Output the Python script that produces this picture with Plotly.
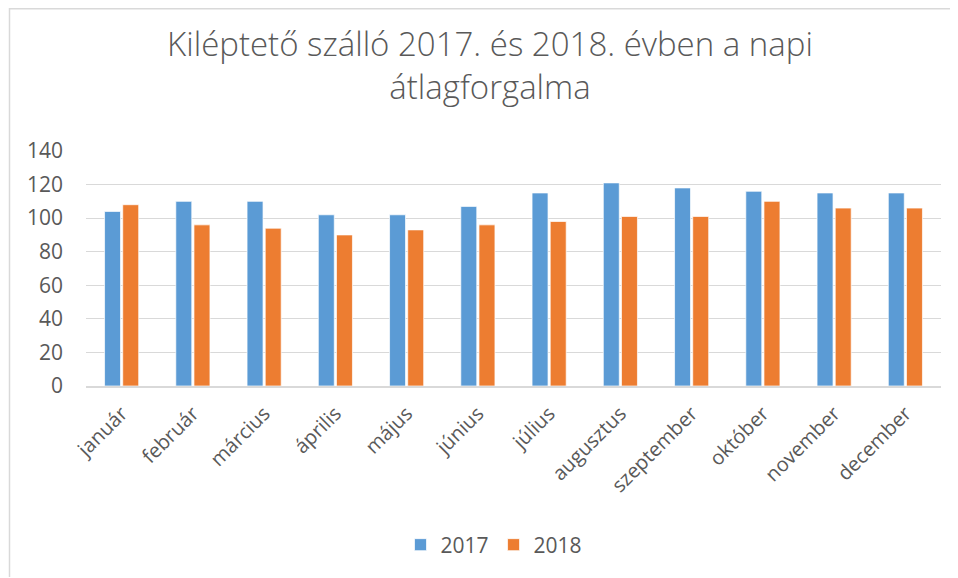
import plotly.graph_objects as go

months = ["január", "február", "március", "április", "május", "június",
          "július", "augusztus", "szeptember", "október", "november", "december"]
v2017 = [104, 110, 110, 102, 102, 107, 115, 121, 118, 116, 115, 115]
v2018 = [108, 96, 94, 90, 93, 96, 98, 101, 101, 110, 106, 106]
y_ticks = [0, 20, 40, 60, 80, 100, 120, 140]

# page has an 8px body margin; figure drawn from (8,8)
OFF = 8
W, H = 950, 570
ml, mr, mt, mb = 78, 17, 143, 192
pw, ph = W - ml - mr, H - mt - mb

def px_x(p):
    return (p - OFF - ml) / pw

def px_y(p):
    return (H - mb - (p - OFF)) / ph

TXT = "#595959"
FONT = "Open Sans"

fig = go.Figure()
fig.add_trace(go.Bar(name="2017", x=months, y=v2017,
                     marker=dict(color="#5B9BD5", line=dict(color="rgba(255,255,255,0.7)", width=1))))
fig.add_trace(go.Bar(name="2018", x=months, y=v2018,
                     marker=dict(color="#ED7D31", line=dict(color="rgba(255,255,255,0.7)", width=1))))

fig.update_layout(
    width=W, height=H,
    margin=dict(l=ml, r=mr, t=mt, b=mb),
    paper_bgcolor="white", plot_bgcolor="white",
    barmode="group", bargap=0.49, bargroupgap=0.12,
    font=dict(family=FONT, color=TXT, size=20),
    title=dict(text="Kiléptető szálló 2017. és 2018. évben a napi<br>átlagforgalma",
               x=(490 - OFF) / W, xanchor="center", xref="container",
               y=1 - (56 - OFF) / H, yanchor="middle", yref="container",
               font=dict(family=FONT, size=33, color=TXT, weight=300)),
    xaxis=dict(showgrid=False, showline=True, linecolor="#D9D9D9", linewidth=2,
               ticks="", tickangle=-45, tickfont=dict(size=20, color=TXT),
               ticklabelstandoff=6),
    yaxis=dict(range=[0, 140], tickvals=y_ticks, showgrid=True, gridcolor="#D9D9D9",
               gridwidth=1, zeroline=False, showline=False, ticks="",
               tickfont=dict(size=21, color=TXT), ticklabelstandoff=22),
    showlegend=True,
    legend=dict(orientation="h", x=px_x(494), xanchor="center", y=px_y(545), yanchor="middle",
                font=dict(size=21, color=TXT), itemwidth=30, traceorder="normal"),
    shapes=[dict(type="path", xref="paper", yref="paper",
                 path=f"M {px_x(9.5)},{px_y(577)} L {px_x(9.5)},{px_y(8.8)} L {px_x(957)},{px_y(8.8)}",
                 line=dict(color="#D9D9D9", width=1.5))],
)

fig.write_html("out.html", config={"displayModeBar": False})
